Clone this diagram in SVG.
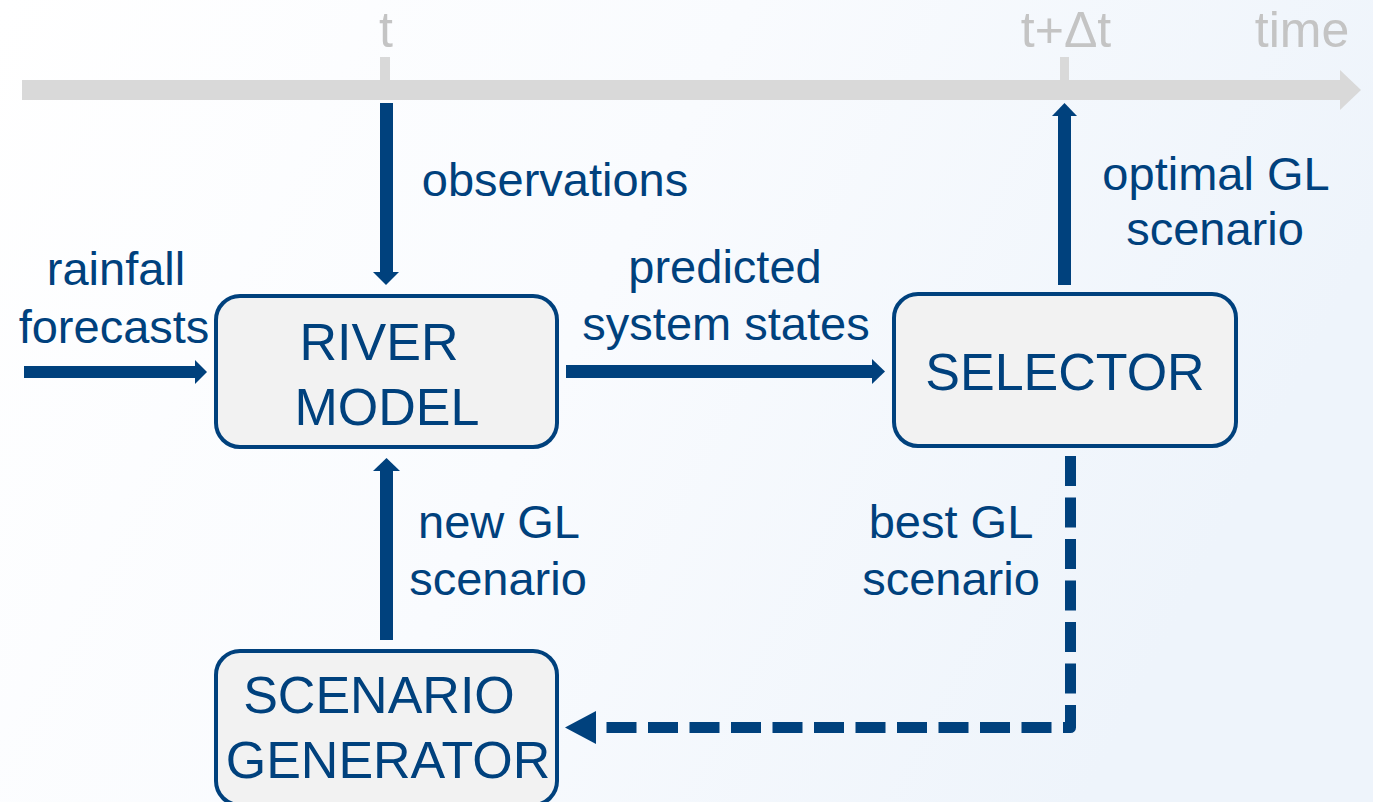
<svg xmlns="http://www.w3.org/2000/svg" width="1373" height="802" viewBox="0 0 1373 802">
<defs>
<linearGradient id="bg" x1="0" y1="0" x2="1" y2="0.3">
<stop offset="0" stop-color="#ffffff"/>
<stop offset="0.5" stop-color="#f9fbfe"/>
<stop offset="1" stop-color="#eef4fb"/>
</linearGradient>
<style>
.box{fill:#f2f2f2;stroke:#00417d;stroke-width:4}
.bt{font-family:"Liberation Sans",Arial,sans-serif;font-size:52px;fill:#00417d;text-anchor:middle}
.lb{font-family:"Liberation Sans",Arial,sans-serif;font-size:47px;fill:#00417d;text-anchor:middle}
.tl{font-family:"Liberation Sans",Arial,sans-serif;font-size:50px;fill:#c4c4c4;text-anchor:middle}
.ar{fill:#00417d}
</style>
</defs>
<rect width="1373" height="802" fill="url(#bg)"/>
<g id="timeline">
<rect x="22" y="80" width="1320" height="20" fill="#d9d9d9"/>
<polygon points="1340,70 1361,90 1340,110" fill="#d9d9d9"/>
<rect x="380" y="57" width="10" height="23" fill="#d9d9d9"/>
<rect x="1060" y="57" width="9" height="23" fill="#d9d9d9"/>
<text class="tl" x="386" y="47">t</text>
<text class="tl" x="1066" y="47">t+Δt</text>
<text class="tl" x="1302" y="47">time</text>
</g>
<g id="connectors">
<g id="c-observations">
<rect x="380" y="103" width="13" height="170" class="ar"/>
<polygon points="373,272 399,272 386,285" class="ar"/>
<text class="lb" x="555" y="196">observations</text>
</g>
<g id="c-rainfall">
<rect x="24" y="366" width="172" height="12" class="ar"/>
<polygon points="195,360 207,372 195,384" class="ar"/>
<text class="lb" x="116" y="285">rainfall</text>
<text class="lb" x="114" y="343">forecasts</text>
</g>
<g id="c-predicted">
<rect x="566" y="365" width="308" height="13" class="ar"/>
<polygon points="872,359 885,371.5 872,384" class="ar"/>
<text class="lb" x="725" y="283">predicted</text>
<text class="lb" x="726" y="340">system states</text>
</g>
<g id="c-optimal">
<rect x="1058" y="114" width="13" height="171" class="ar"/>
<polygon points="1052,116 1064.5,103 1077,116" class="ar"/>
<text class="lb" x="1216" y="190">optimal GL</text>
<text class="lb" x="1215" y="245">scenario</text>
</g>
<g id="c-newgl">
<rect x="380" y="470" width="13" height="170" class="ar"/>
<polygon points="373,471 386.5,458 400,471" class="ar"/>
<text class="lb" x="499" y="538">new GL</text>
<text class="lb" x="498" y="595">scenario</text>
</g>
<g id="c-bestgl">
<path d="M1070.5,456 V727.5 H596" fill="none" stroke="#00417d" stroke-width="11" stroke-dasharray="30 11.5" stroke-linejoin="round"/>
<polygon points="596,711 565,727.5 596,744" class="ar"/>
<text class="lb" x="951" y="538">best GL</text>
<text class="lb" x="951" y="595">scenario</text>
</g>
</g>
<g id="river-model">
<rect class="box" x="216" y="296" width="341" height="151" rx="24"/>
<text class="bt" x="379" y="360">RIVER</text>
<text class="bt" x="387" y="425">MODEL</text>
</g>
<g id="selector">
<rect class="box" x="894" y="294" width="342" height="152" rx="24"/>
<text class="bt" x="1065" y="390">SELECTOR</text>
</g>
<g id="scenario-generator">
<rect class="box" x="216" y="651" width="341" height="154" rx="24"/>
<text class="bt" x="379" y="713">SCENARIO</text>
<text class="bt" x="388" y="778">GENERATOR</text>
</g>
</svg>
